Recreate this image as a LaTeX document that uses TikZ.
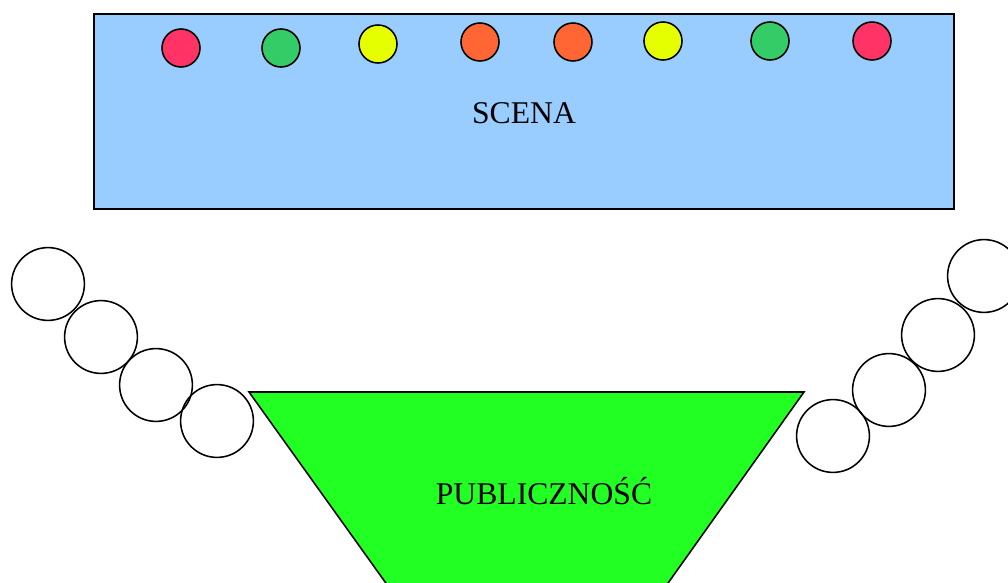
\documentclass[tikz,border=0pt]{standalone}
\usepackage{fontspec}
\setmainfont{Liberation Serif}
\usetikzlibrary{positioning}

\definecolor{stageblue}{HTML}{99CCFF}
\definecolor{crowdgreen}{HTML}{22FF22}
\definecolor{lampred}{HTML}{FF3366}
\definecolor{lampgreen}{HTML}{33CC66}
\definecolor{lampyellow}{HTML}{E6FF00}
\definecolor{lamporange}{HTML}{FF6633}

\begin{document}
\begin{tikzpicture}[x=0.025cm, y=-0.025cm, line width=1.1pt,
		lamp/.style={circle, draw=black, minimum size=0.95cm, inner sep=0pt},
		seat/.style={circle, draw=black, minimum size=1.82cm, inner sep=0pt},
		label text/.style={font=\fontsize{22.5}{27}\selectfont}]
					\clip (0,0) rectangle (1008,583);

					%% stage
					\draw[fill=stageblue] (94,14) rectangle (954,209);
					\node[label text] (scena) at (524,113) {SCENA};

					\node[lamp,fill=lampred] (l1) at (181,48) {};
					\node[lamp,fill=lampgreen] (l2) at (281,48) {};
					\node[lamp,fill=lampyellow] (l3) at (378,44) {};
					\node[lamp,fill=lamporange] (l4) at (480,42) {};
					\node[lamp,fill=lamporange] (l5) at (573,42) {};
					\node[lamp,fill=lampyellow] (l6) at (663,41) {};
					\node[lamp,fill=lampgreen] (l7) at (770,41) {};
					\node[lamp,fill=lampred] (l8) at (872,41) {};

					%% audience
					\draw[fill=crowdgreen] (249,392) -- (804,392) -- (656,600) -- (398,600) -- cycle;
					\node[label text] (publ) at (544,491) {PUBLICZNOŚĆ};

					%% side seats
					\node[seat] (s1) at (48,284) {};
					\node[seat] (s2) at (101,337) {};
					\node[seat] (s3) at (156,385) {};
					\node[seat] (s4) at (217,421) {};

					\node[seat] (s5) at (984,276) {};
					\node[seat] (s6) at (938,335) {};
					\node[seat] (s7) at (889,390) {};
					\node[seat] (s8) at (833,436) {};
				\end{tikzpicture}
\end{document}
